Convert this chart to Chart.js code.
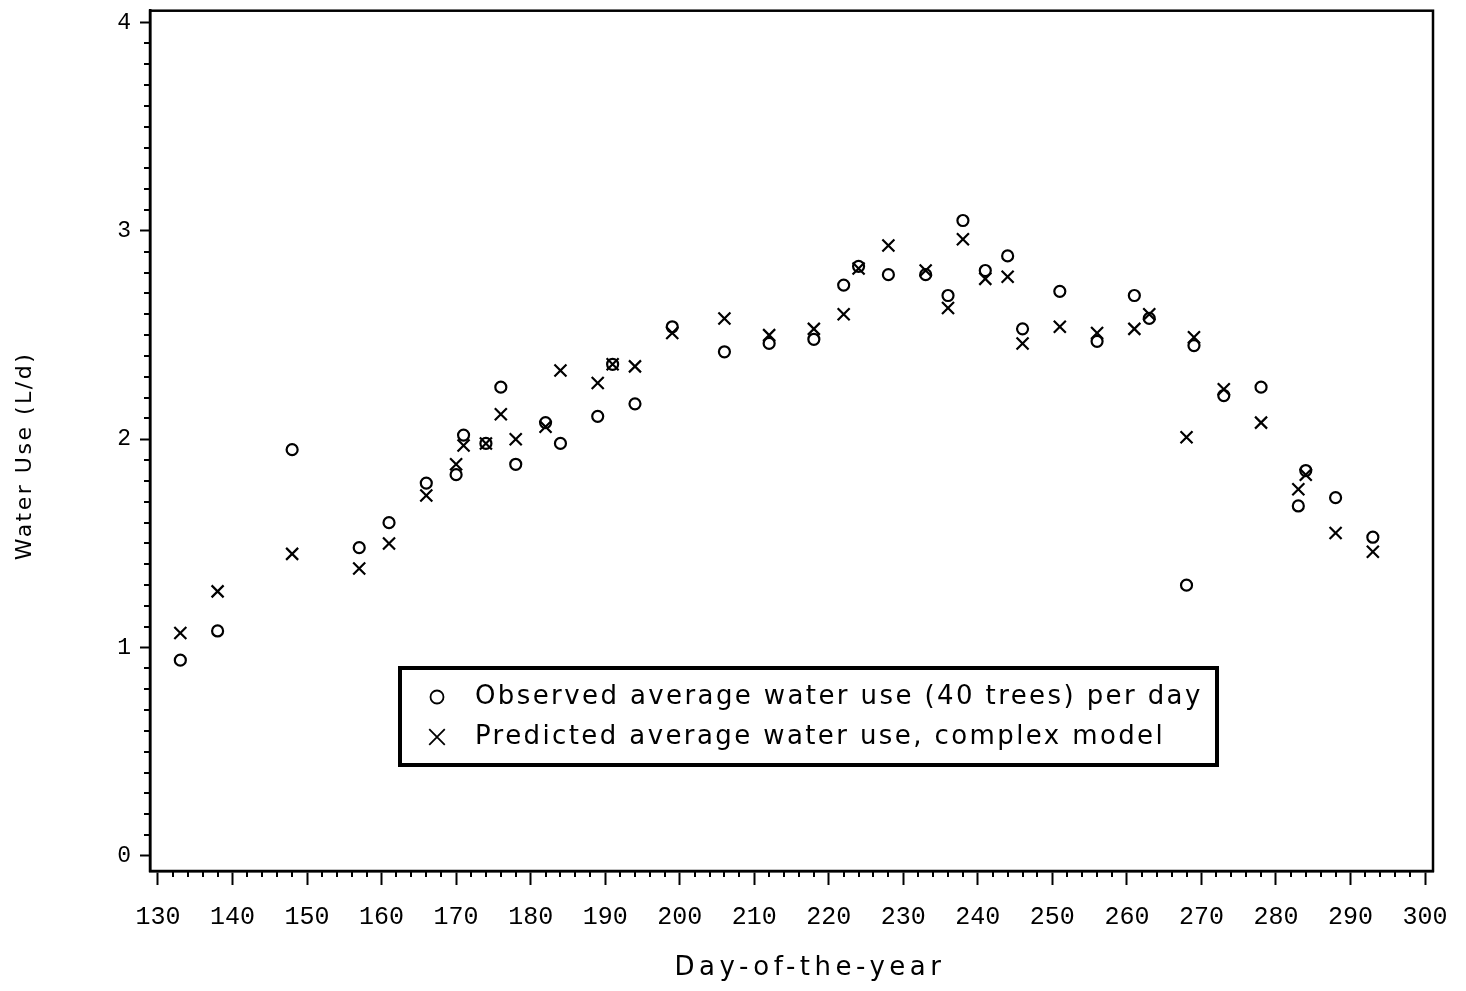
<!DOCTYPE html>
<html>
<head>
<meta charset="utf-8">
<title>Water Use by Day-of-the-year</title>
<script src="https://cdn.jsdelivr.net/npm/chart.js@4.4.1/dist/chart.umd.min.js"></script>
<style>
    html, body { margin: 0; padding: 0; background: #fff; }
    #wrap { width: 1466px; height: 991px; }
</style>
</head>
<body>
<div id="wrap"><canvas id="water_chart" width="1466" height="991"></canvas></div>
<script>
// day-of-year for every observation
const days = [133, 138, 148, 157, 161, 166, 170, 171, 174, 176, 178, 182, 184, 189, 191, 194, 199,
    206, 212, 218, 222, 224, 228, 233, 236, 238, 241, 244, 246, 251, 256, 261, 263, 268, 269,
    273, 278, 283, 284, 288, 293];
// observed average water use (L/d)
const observed = [0.94, 1.08, 1.95, 1.48, 1.60, 1.79, 1.83, 2.02, 1.98, 2.25, 1.88, 2.08, 1.98, 2.11, 2.36, 2.17, 2.54,
    2.42, 2.46, 2.48, 2.74, 2.83, 2.79, 2.79, 2.69, 3.05, 2.81, 2.88, 2.53, 2.71, 2.47, 2.69, 2.58, 1.30, 2.45,
    2.21, 2.25, 1.68, 1.85, 1.72, 1.53];
// predicted, complex model (L/d)
const predicted = [1.07, 1.27, 1.45, 1.38, 1.50, 1.73, 1.88, 1.97, 1.98, 2.12, 2.00, 2.06, 2.33, 2.27, 2.36, 2.35, 2.51,
    2.58, 2.50, 2.53, 2.60, 2.82, 2.93, 2.81, 2.63, 2.96, 2.77, 2.78, 2.46, 2.54, 2.51, 2.53, 2.60, 2.01, 2.49,
    2.24, 2.08, 1.76, 1.83, 1.55, 1.46];
const xTicks = [130, 140, 150, 160, 170, 180, 190, 200, 210, 220, 230, 240, 250, 260, 270, 280, 290, 300];
const yTicks = [0, 1, 2, 3, 4];
const seriesLabels = ["Observed average water use (40 trees) per day", "Predicted average water use, complex model"];
const xTitle = "Day-of-the-year";
const yTitle = "Water Use (L/d)";

// minor ticks, frame, axis titles and boxed legend
const extras = {
    id: 'extras',
    afterDraw(chart) {
        const { ctx, chartArea, scales: { x, y } } = chart;
        ctx.save();
        ctx.strokeStyle = '#000';
        ctx.fillStyle = '#000';

        ctx.lineWidth = 2;
        ctx.beginPath();
        for (let d = xTicks[0]; d <= xTicks[xTicks.length - 1]; d += 2) {
            if (d % 10 === 0) continue;
            const px = Math.round(x.getPixelForValue(d));
            ctx.moveTo(px, chartArea.bottom);
            ctx.lineTo(px, chartArea.bottom + 6);
        }
        for (let i = 0; i <= 40; i++) {
            if (i % 10 === 0) continue;
            const py = Math.round(y.getPixelForValue(i / 10));
            ctx.moveTo(chartArea.left, py);
            ctx.lineTo(chartArea.left - 6, py);
        }
        ctx.stroke();

        ctx.lineWidth = 2.5;
        ctx.strokeRect(chartArea.left, chartArea.top, chartArea.right - chartArea.left, chartArea.bottom - chartArea.top);

        // axis titles
        ctx.textAlign = 'center';
        ctx.textBaseline = 'middle';
        ctx.font = '26px "DejaVu Sans"';
        ctx.letterSpacing = '4.5px';
        ctx.fillText(xTitle, 810, 968);

        ctx.save();
        ctx.translate(25, 456);
        ctx.rotate(-Math.PI / 2);
        ctx.font = '22px "DejaVu Sans"';
        ctx.letterSpacing = '2.5px';
        ctx.fillText(yTitle, 0, 0);
        ctx.restore();

        // legend box
        ctx.lineWidth = 4;
        ctx.strokeRect(400, 668, 817, 97);
        ctx.textAlign = 'left';
        ctx.font = '26px "DejaVu Sans"';
        ctx.letterSpacing = '2.4px';
        const rows = [697, 737];
        chart.data.datasets.forEach((ds, i) => {
            ctx.lineWidth = 1.8;
            ctx.fillStyle = 'rgba(0,0,0,0)';
            Chart.helpers.drawPoint(ctx, {
                pointStyle: ds.pointStyle,
                radius: ds.pointStyle === 'circle' ? 6.5 : 11,
                borderWidth: 1.8,
                rotation: 0
            }, 437, rows[i]);
            ctx.fillStyle = '#000';
            ctx.fillText(ds.label, 475, rows[i]);
        });
        ctx.restore();
    }
};

const ctx = document.getElementById('water_chart').getContext('2d');
const water_chart = new Chart(ctx, {
    type: 'scatter',
    data: {
        datasets: [
            {
                label: seriesLabels[0],
                data: days.map((d, i) => ({ x: d, y: observed[i] })),
                pointStyle: 'circle',
                pointRadius: 5.5,
                borderWidth: 2.2,
                borderColor: '#000',
                backgroundColor: 'rgba(0,0,0,0)'
            },
            {
                label: seriesLabels[1],
                data: days.map((d, i) => ({ x: d, y: predicted[i] })),
                pointStyle: 'crossRot',
                pointRadius: 8.5,
                borderWidth: 2.2,
                borderColor: '#000',
                backgroundColor: 'rgba(0,0,0,0)'
            }
        ]
    },
    options: {
        responsive: false,
        animation: false,
        events: [],
        layout: { padding: { top: 7, right: 33, left: 0, bottom: 0 } },
        plugins: {
            legend: { display: false },
            tooltip: { enabled: false },
            title: { display: false }
        },
        scales: {
            x: {
                type: 'linear',
                min: 128.93,
                max: 301.07,
                afterBuildTicks: (scale) => { scale.ticks = xTicks.map(v => ({ value: v })); },
                afterFit: (scale) => { scale.height = 120; scale.paddingLeft = 0; scale.paddingRight = 0; },
                border: { display: true, color: '#000', width: 2.5 },
                grid: { drawOnChartArea: false, drawTicks: true, tickLength: 14, tickColor: '#000', tickWidth: 2 },
                ticks: {
                    color: '#000',
                    padding: 17,
                    maxRotation: 0,
                    autoSkip: false,
                    font: { family: '"Liberation Mono", "DejaVu Sans Mono", monospace', size: 25 }
                },
                title: { display: false }
            },
            y: {
                type: 'linear',
                min: -0.072,
                max: 4.057,
                afterBuildTicks: (scale) => { scale.ticks = yTicks.map(v => ({ value: v })); },
                afterFit: (scale) => { scale.width = 150; scale.paddingTop = 0; scale.paddingBottom = 0; },
                border: { display: true, color: '#000', width: 2.5 },
                grid: { drawOnChartArea: false, drawTicks: true, tickLength: 10, tickColor: '#000', tickWidth: 2 },
                ticks: {
                    color: '#000',
                    padding: 9,
                    autoSkip: false,
                    font: { family: '"Liberation Mono", "DejaVu Sans Mono", monospace', size: 23 }
                },
                title: { display: false }
            }
        }
    },
    plugins: [extras]
});
</script>
</body>
</html>
